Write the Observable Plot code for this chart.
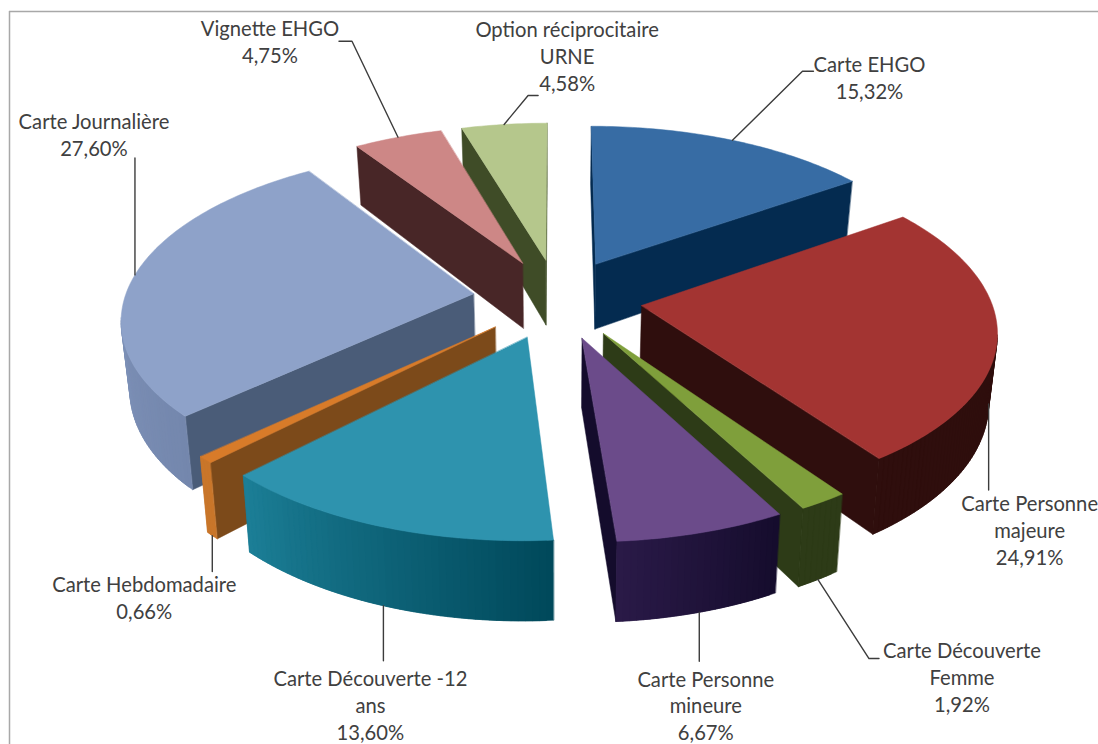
<!DOCTYPE html>
<html lang="fr">
<head>
<meta charset="utf-8">
<script src="https://cdn.jsdelivr.net/npm/d3@7"></script>
<script src="https://cdn.jsdelivr.net/npm/@observablehq/plot@0.6"></script>
<style>html,body{margin:0;padding:0;background:#fff}svg{display:block}</style>
</head>
<body>
<div id="chart"></div>
<script>
// Data (clockwise from 12 o'clock)
const sliceNames = ["Carte EHGO","Carte Personne\nmajeure","Carte Découverte\nFemme","Carte Personne\nmineure","Carte Découverte -12\nans","Carte Hebdomadaire","Carte Journalière","Vignette EHGO","Option réciprocitaire\nURNE"];
const sliceValues = [15.32,24.91,1.92,6.67,13.60,0.66,27.60,4.75,4.58];

// Colours
const topColors = ["#376ca4","#a33432","#7f9f3b","#6b4b8a","#2e93ae","#d87b29","#8ea2c9","#cd8786","#b5c78c"];
const radialColors = ["#042b50","#2f0e0d","#2d3b17","#140c2c","#0b5a6c","#7c4a1a","#4a5c78","#482627","#3f4c27"];
const rimStartColors = ["#042b50","#2f0e0d","#2d3b17","#150c2c","#00485a","#c9762a","#7487ad","#482627","#3f4c27"];
const rimEndColors = ["#042b50","#2f0e0d","#2d3b17","#2a1a48","#1c7f97","#c9762a","#8ea2c9","#482627","#3f4c27"];

// Projection of the tilted, exploded pie
const view = {cx:557, cy:298, R:349, Q:164.8, k:0.134, explode:0.243, depth:67, shrink:0.02};
const project = (X, Y, z) => {
  const s = 1 / (1 + view.k * Y);
  const px = view.R * X * s * (1 - z * view.shrink);
  return {x: view.cx + px, y: view.cy - view.Q * Y * s + z * view.depth * s};
};

// Label placement relative to the mid-angle rim anchor of each slice
const anchorDepth = [0,1,1,1,1,1,0,0,0];
const leaderPaths = [
  [[70,-69],[81,-69]], [[0,86]], [[51,79],[61,79]], [[0,49]], [[0,55]], [[0,36]], [[0,-117]],
  [[-46,-96],[-59,-96]], [[24,-29],[34,-29]]
];
const labelOffsets = [[137,-63],[41,125],[144,97],[6.5,92.5],[-13,98.5],[-68,61],[-41,-141],[-128,-96],[63,-69]];

// Geometry derived from values
const total = d3.sum(sliceValues);
const rad = d => d * Math.PI / 180;
let acc = 0;
const slices = sliceValues.map((v, i) => {
  const a0 = acc / total * 360; acc += v;
  const a1 = acc / total * 360;
  const mid = (a0 + a1) / 2;
  const ax = view.explode * Math.sin(rad(mid)), ay = view.explode * Math.cos(rad(mid));
  const rim = (a, z) => project(ax + Math.sin(rad(a)), ay + Math.cos(rad(a)), z);
  return {i, a0, a1, mid, ax, ay, rim, apex: z => project(ax, ay, z)};
});

let fid = 0;
const pushFace = (rows, pts, color) => { const id = fid++; pts.forEach(p => rows.push({id, color, x:p.x, y:p.y})); };
const quad = (p0, p1) => [p0, p1, {x:p1.x2, y:p1.y2}, {x:p0.x2, y:p0.y2}];
const both = (f) => { const t = f(0), b = f(1); return {x:t.x, y:t.y, x2:b.x, y2:b.y}; };

// Painter's order: far slices first
const faces = [];
[...slices].sort((a, b) => b.ay - a.ay).forEach(s => {
  const mix = d3.interpolateRgb(rimStartColors[s.i], rimEndColors[s.i]);
  const n = Math.max(2, Math.ceil(s.a1 - s.a0));
  const arcAngles = d3.range(n + 1).map(j => s.a0 + (s.a1 - s.a0) * j / n);
  const ap = both(s.apex);
  const first = both(z => s.rim(s.a0, z));
  const last = both(z => s.rim(s.a1, z));
  if (first.x < ap.x) pushFace(faces, quad(ap, first), radialColors[s.i]);
  if (ap.x < last.x) pushFace(faces, quad(last, ap), radialColors[s.i]);
  // outer wall: overlapping strips, each reaching one step on so no background shows through
  d3.pairs(arcAngles).forEach(([a, b], j) => {
    const p = both(z => s.rim(a, z)), q = both(z => s.rim(b, z));
    if (q.x < p.x) {
      const c = Math.min(s.a1, b + (s.a1 - s.a0) / n);
      pushFace(faces, quad(p, both(z => s.rim(c, z))), d3.color(mix((j + 0.5) / n)).formatHex());
    }
  });
  pushFace(faces, [s.apex(0), ...arcAngles.map(a => s.rim(a, 0))], topColors[s.i]);
});

// Leaders and labels
const anchors = slices.map(s => s.rim(s.mid, anchorDepth[s.i]));
const leaderRows = anchors.flatMap((p, i) => [
  {i, x:p.x, y:p.y},
  ...leaderPaths[i].map(([dx, dy]) => ({i, x:p.x + dx, y:p.y + dy}))
]);
const fmt = v => v.toFixed(2).replace(".", ",") + "%";
const labels = anchors.map((p, i) => ({
  x: p.x + labelOffsets[i][0],
  y: p.y + labelOffsets[i][1],
  text: sliceNames[i] + "\n" + fmt(sliceValues[i])
}));

const chart = Plot.plot({
  width: 1098, height: 744,
  margin: 0,
  x: {domain:[0,1098], range:[0,1098], axis:null},
  y: {domain:[0,744], range:[0,744], axis:null},
  color: {type:"identity"},
  style: {background:"#fff"},
  marks: [
    Plot.ruleY([11], {x1:9, x2:1098, stroke:"#a8a8a8", strokeWidth:1.5}),
    Plot.ruleX([9], {y1:11, y2:744, stroke:"#a8a8a8", strokeWidth:1.5}),
    Plot.line(faces, {x:"x", y:"y", z:"id", fill:"color", stroke:"color", strokeWidth:0.5, curve:"linear-closed"}),
    Plot.line(leaderRows, {x:"x", y:"y", z:"i", stroke:"#3c3c3c", strokeWidth:1.4}),
    Plot.text(labels, {x:"x", y:"y", text:"text", fill:"#404040", fontFamily:"Lato", fontSize:20.2, lineHeight:1.33, textAnchor:"middle", lineAnchor:"middle"})
  ]
});
document.getElementById("chart").appendChild(chart);
</script>
</body>
</html>
